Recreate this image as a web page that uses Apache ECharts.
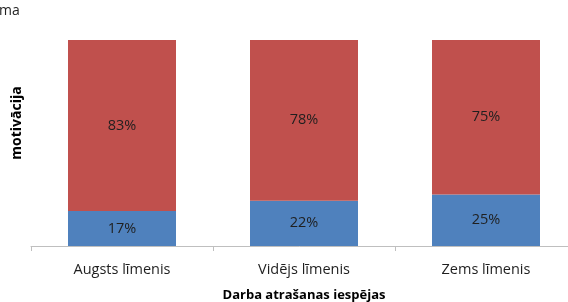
<!DOCTYPE html>
<html>
<head>
<meta charset="utf-8">
<script src="https://cdn.jsdelivr.net/npm/echarts@6/dist/echarts.min.js"></script>
<style>
  html, body { margin: 0; padding: 0; background: #fff; }
  #chart { width: 568px; height: 302px; }
</style>
</head>
<body>
<div id="chart"></div>
<script>
// categories and shares (%)
const categories = ['Augsts līmenis', 'Vidējs līmenis', 'Zems līmenis']
const lowValues = [17, 22, 25]
const highValues = [83, 78, 75]

const font = 'Open Sans'
const chart = echarts.init(document.getElementById('chart'))

const labelStyle = {
  show: true,
  position: 'inside',
  formatter: '{c}%',
  color: '#1f1f1f',
  fontFamily: font,
  fontSize: 14.5,
}

chart.setOption({
  animation: false,
  textStyle: { fontFamily: font },
  grid: { left: 31, top: 40, width: 546, height: 206, outerBoundsMode: 'none' },
  graphic: [
    {
      type: 'text',
      left: -1,
      top: 4,
      style: { text: 'ma', fontFamily: font, fontSize: 14, fill: '#1f1f1f' },
    },
    {
      type: 'text',
      x: 10,
      y: 123,
      rotation: Math.PI / 2,
      style: {
        text: 'motivācija',
        fontFamily: font,
        fontSize: 14,
        fontWeight: 'bold',
        fill: '#000',
        align: 'center',
        verticalAlign: 'top',
      },
    },
  ],
  xAxis: {
    type: 'category',
    data: categories,
    name: 'Darba atrašanas iespējas',
    nameLocation: 'middle',
    nameGap: 43,
    nameTextStyle: { fontFamily: font, fontSize: 13, fontWeight: 'bold', color: '#000' },
    axisLine: { lineStyle: { color: '#bfbfbf', width: 1 } },
    axisTick: { show: true, length: 5, lineStyle: { color: '#bfbfbf' } },
    axisLabel: { color: '#1f1f1f', fontSize: 14.5, margin: 16, fontFamily: font },
  },
  yAxis: {
    type: 'value',
    min: 0,
    max: 100,
    show: false,
    splitLine: { show: false },
  },
  series: [
    {
      name: 'low',
      type: 'bar',
      stack: 'total',
      data: lowValues,
      barWidth: 108,
      itemStyle: { color: '#4f81bd' },
      label: labelStyle,
    },
    {
      name: 'high',
      type: 'bar',
      stack: 'total',
      data: highValues,
      barWidth: 108,
      itemStyle: { color: '#c0504d' },
      label: labelStyle,
    },
  ],
})
</script>
</body>
</html>
